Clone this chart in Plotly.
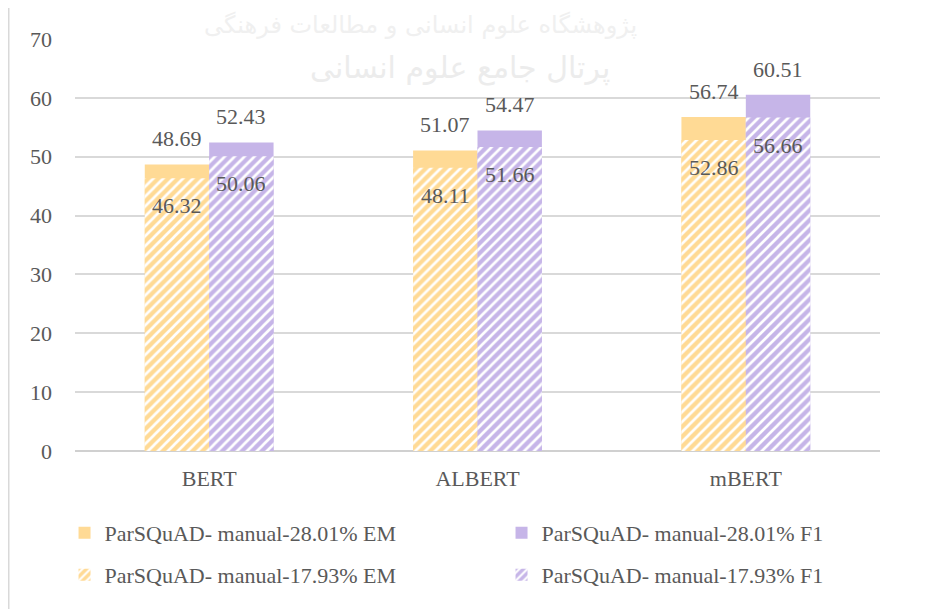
import plotly.graph_objects as go

models = ["BERT", "ALBERT", "mBERT"]
em_2801 = [48.69, 51.07, 56.74]
f1_2801 = [52.43, 54.47, 60.51]
em_1793 = [46.32, 48.11, 52.86]
f1_1793 = [50.06, 51.66, 56.66]
y_ticks = [0, 10, 20, 30, 40, 50, 60, 70]

names = {
    "em_2801": "ParSQuAD- manual-28.01% EM",
    "f1_2801": "ParSQuAD- manual-28.01% F1",
    "em_1793": "ParSQuAD- manual-17.93% EM",
    "f1_1793": "ParSQuAD- manual-17.93% F1",
}

YELLOW = "#FFDA95"
PURPLE = "#C6B5E8"
TXT = "#595959"
FONT = "Liberation Serif"
FS = 22
W = 0.24

fig = go.Figure()

def solid(vals, name, color, off, legend):
    fig.add_trace(go.Bar(
        x=models, y=vals, name=name, width=W, offset=off,
        marker=dict(color=color, line=dict(width=0)),
        legend=legend, hoverinfo="y+name",
    ))

def hatched(vals, name, color, off, legend):
    fig.add_trace(go.Bar(
        x=models, y=vals, name=name, width=W, offset=off,
        marker=dict(color=color, line=dict(width=0),
                    pattern=dict(shape="/", fgcolor="white", bgcolor=color,
                                 size=7, solidity=0.38, fillmode="replace")),
        legend=legend, hoverinfo="y+name",
    ))

solid(em_2801, names["em_2801"], YELLOW, -W, "legend")
solid(f1_2801, names["f1_2801"], PURPLE, 0, "legend")
hatched(em_1793, names["em_1793"], YELLOW, -W, "legend2")
hatched(f1_1793, names["f1_1793"], PURPLE, 0, "legend2")

anns = []
for i, m in enumerate(models):
    for vals, off, inside in [(em_2801, -W / 2, False), (f1_2801, W / 2, False),
                              (em_1793, -W / 2, True), (f1_1793, W / 2, True)]:
        v = vals[i]
        anns.append(dict(
            x=i + off, y=v, xref="x", yref="y", text=f"{v:.2f}", showarrow=False,
            yanchor="top" if inside else "bottom",
            yshift=-13 if inside else 11,
            font=dict(family=FONT, size=FS, color=TXT),
        ))

# faint watermark
anns.append(dict(x=0.429, y=1.035, xref="paper", yref="paper",
                 text="پژوهشگاه علوم انسانی و مطالعات فرهنگی", showarrow=False,
                 yanchor="middle", font=dict(family="DejaVu Sans", size=24, color="#f0f0f0")))
anns.append(dict(x=0.478, y=0.93, xref="paper", yref="paper",
                 text="پرتال جامع علوم انسانی", showarrow=False, yanchor="middle",
                 font=dict(family="DejaVu Sans", size=30, color="#ececec")))

leg_common = dict(orientation="h", xref="paper", yref="paper", x=-0.013,
                  xanchor="left", yanchor="middle", entrywidth=392, entrywidthmode="pixels",
                  font=dict(family=FONT, size=FS, color=TXT), bgcolor="rgba(0,0,0,0)",
                  traceorder="normal")

fig.update_layout(
    width=928, height=601,
    barmode="overlay",
    paper_bgcolor="white", plot_bgcolor="white",
    margin=dict(l=67, r=56, t=31, b=158, autoexpand=False),
    font=dict(family=FONT, size=FS, color=TXT),
    xaxis=dict(type="category", showgrid=False, ticks="", tickfont=dict(size=FS, color=TXT),
               showline=False, ticklabelstandoff=12, automargin=False),
    yaxis=dict(range=[0, 70], tickvals=y_ticks, showgrid=True, gridcolor="#D9D9D9", gridwidth=1.5,
               zeroline=True, zerolinecolor="#D0D0D0", zerolinewidth=1.5, automargin=False,
               ticks="", ticklabelstandoff=22, tickfont=dict(size=FS, color=TXT)),
    yaxis2=dict(range=[0, 70], tickvals=y_ticks, overlaying="y", side="right", showgrid=False,
                zeroline=False, ticks="", ticklabelstandoff=22, automargin=False,
                tickfont=dict(size=FS, color=TXT)),
    legend=dict(leg_common, y=-0.199),
    legend2=dict(leg_common, y=-0.301),
    annotations=anns,
    shapes=[dict(type="line", xref="paper", yref="paper", x0=-0.0823, x1=-0.0823, y0=-0.4, y1=1.1,
                 line=dict(color="#D9D9D9", width=1.5))],
    showlegend=True,
)

fig.write_html("out.html")
